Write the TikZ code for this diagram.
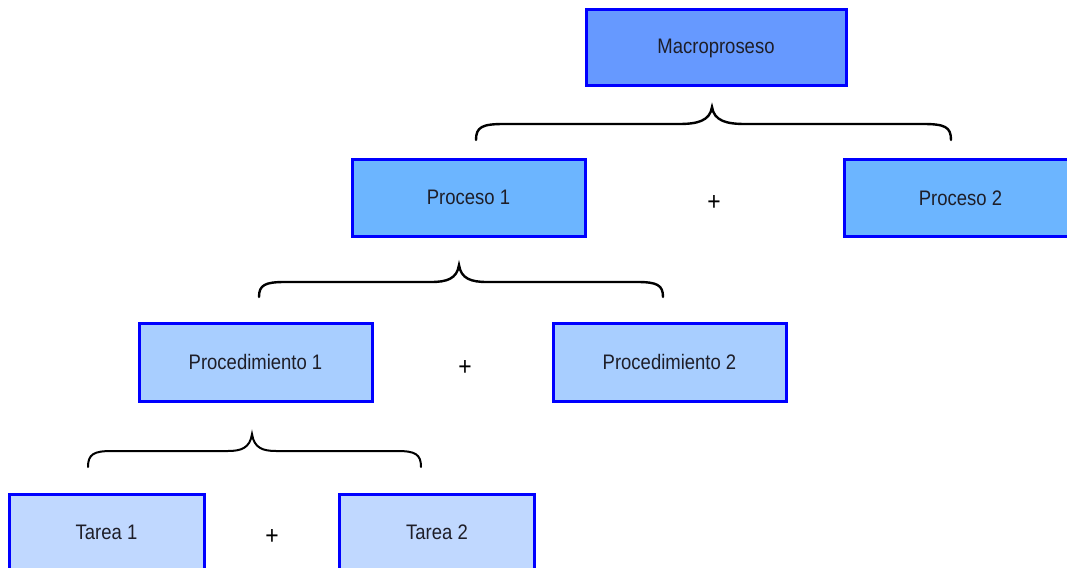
\documentclass[tikz,border=0pt]{standalone}
\usepackage{fontspec}
\setmainfont{Liberation Sans}[FakeStretch=0.88]
\definecolor{cmacro}{RGB}{102,153,255}
\definecolor{cproc}{RGB}{108,181,255}
\definecolor{cprocd}{RGB}{168,206,255}
\definecolor{ctarea}{RGB}{192,216,255}
\definecolor{cborder}{RGB}{0,0,255}
\definecolor{ctext}{RGB}{30,30,40}
\newcommand{\drawbrace}[8]{% x1 x2 xm yt ym yb tipwidth endwidth
  \draw[bracestyle] (#1,#6) .. controls (#1,{#5+3}) and ({#1+6},#5) .. ({#1+#8},#5)
    -- ({#3-#7},#5) .. controls ({#3-#7*0.45},#5) and ({#3-2},{#5-3}) .. (#3,#4)
    .. controls ({#3+2},{#5-3}) and ({#3+#7*0.45},#5) .. ({#3+#7},#5)
    -- ({#2-#8},#5) .. controls ({#2-6},#5) and (#2,{#5+3}) .. (#2,#6);}
\tikzset{
  box/.style={draw=cborder, line width=3pt, rectangle, inner sep=0pt,
    minimum width=233pt, minimum height=77pt, text=ctext, font=\fontsize{21}{25}\selectfont},
  plus/.style={inner sep=0pt, font=\fontsize{26}{30}\selectfont},
  bracestyle/.style={draw=black, line width=2.4pt, line cap=round}
}
\begin{document}
\begin{tikzpicture}[x=1pt,y=-1pt]
\useasboundingbox (0,0) rectangle (1067,567);
\node[box, fill=cmacro, minimum width=260pt, minimum height=76pt] (macro) at (716,48) {Macroproseso};
\node[box, fill=cproc] (p1) at (468.5,197.5) {Proceso 1};
\node[box, fill=cproc] (p2) at (960.5,198) {Proceso 2};
\node[box, fill=cprocd, minimum height=78pt] (pd1) at (255.5,362) {Procedimiento 1};
\node[box, fill=cprocd, minimum height=78pt] (pd2) at (669.5,362) {Procedimiento 2};
\node[box, fill=ctarea, minimum width=195pt] (t1) at (106.5,532.5) {Tarea 1};
\node[box, fill=ctarea, minimum width=195pt] (t2) at (437,532.5) {Tarea 2};
\node[plus] (plus1) at (714,203) {+};
\node[plus] (plus2) at (465,368) {+};
\node[plus] (plus3) at (272,537) {+};
\drawbrace{476}{951}{712}{107}{124}{140}{33}{28}
\drawbrace{259}{663}{459}{265}{282}{297}{28}{26}
\tikzset{bracestyle/.append style={line width=2pt}}
\drawbrace{88}{421}{252}{434}{451}{467}{24}{24}
\end{tikzpicture}
\end{document}
